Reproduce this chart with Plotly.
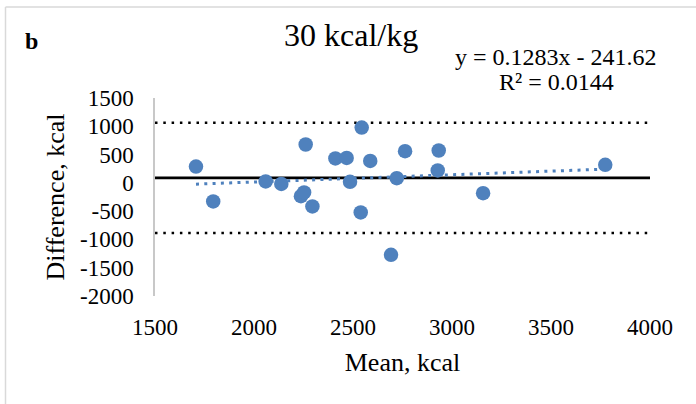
import numpy as np
import plotly.graph_objects as go

# Bland-Altman data
mean_kcal = [1707, 1794, 2059, 2138, 2261, 2237, 2253, 2295, 2411, 2468, 2544,
             2485, 2539, 2587, 2692, 2721, 2763, 2933, 2928, 3157, 3774]
diff_kcal = [289, -328, 25, -18, 678, -235, -169, -417, 431, 441, 978,
             18, -522, 388, -1271, 83, 559, 572, 219, -182, 318]
x_ticks = [1500, 2000, 2500, 3000, 3500, 4000]
y_ticks = [1500, 1000, 500, 0, -500, -1000, -1500, -2000]
trend_slope = 0.1283
trend_intercept = -241.62

x = np.array(mean_kcal, dtype=float)
d = np.array(diff_kcal, dtype=float)
bias = d.mean()
sd = d.std(ddof=1)
upper = bias + 1.96 * sd
lower = bias - 1.96 * sd
x_range = [min(x_ticks), max(x_ticks)]

FONT = "Liberation Serif"
BLUE = "#4F81BD"

W, H = 696, 404
L, R, T, B = 155, 46, 98, 108
PW, PH = W - L - R, H - T - B


def px(xp):
    return (xp - L) / PW


def py(yp):
    return (H - B - yp) / PH


fig = go.Figure()

# limits of agreement
for lim in (upper, lower):
    fig.add_trace(go.Scatter(x=x_range, y=[lim, lim], mode="lines",
                             line=dict(color="black", width=2.5, dash="2.5px,5.8px"),
                             hoverinfo="skip", showlegend=False))
# mean bias
fig.add_trace(go.Scatter(x=x_range, y=[bias, bias], mode="lines",
                         line=dict(color="black", width=2.7),
                         hoverinfo="skip", showlegend=False))
# trend line
tx = np.array([x.min(), x.max()])
fig.add_trace(go.Scatter(x=tx, y=trend_slope * tx + trend_intercept, mode="lines",
                         line=dict(color=BLUE, width=3, dash="3px,5.3px"),
                         hoverinfo="skip", showlegend=False))
# points
fig.add_trace(go.Scatter(x=mean_kcal, y=diff_kcal, mode="markers",
                         marker=dict(color=BLUE, size=14.5, line=dict(width=0)),
                         showlegend=False))

fig.update_layout(
    width=W, height=H,
    margin=dict(l=L, r=R, t=T, b=B),
    paper_bgcolor="white", plot_bgcolor="white",
    font=dict(family=FONT, color="black", size=22),
    showlegend=False,
    xaxis=dict(range=x_range, tickvals=x_ticks, ticktext=[str(v) for v in x_ticks],
               showgrid=False, zeroline=False, showline=False, ticks="",
               ticklabelstandoff=15, tickfont=dict(size=23, family=FONT),
               title=dict(text="Mean, kcal", font=dict(size=26, family=FONT), standoff=13)),
    yaxis=dict(range=[-2000, 1500], tickvals=y_ticks, ticktext=[str(v) for v in y_ticks],
               showgrid=False, zeroline=False, showline=True, linecolor="#C8C8C8",
               linewidth=1.5, ticks="", ticklabelstandoff=15,
               tickfont=dict(size=23, family=FONT),
               title=dict(text="Difference, kcal", font=dict(size=26, family=FONT), standoff=8)),
)

ann_common = dict(xref="paper", yref="paper", showarrow=False,
                  xanchor="center", yanchor="middle")
fig.add_annotation(text="<b>b</b>", x=px(31), y=py(41),
                   font=dict(size=24, family=FONT), **ann_common)
fig.add_annotation(text="30 kcal/kg", x=px(351), y=py(35),
                   font=dict(size=32, family=FONT), **ann_common)
fig.add_annotation(text="y = 0.1283x - 241.62", x=px(556), y=py(57),
                   font=dict(size=24, family=FONT), **ann_common)
fig.add_annotation(text="R² = 0.0144", x=px(556), y=py(82),
                   font=dict(size=24, family=FONT), **ann_common)

# chart frame (left and top edges visible)
fig.add_shape(type="line", xref="paper", yref="paper",
              x0=px(5.5), x1=px(5.5), y0=py(7), y1=py(430),
              line=dict(color="#D9D9D9", width=1.5))
fig.add_shape(type="line", xref="paper", yref="paper",
              x0=px(5.5), x1=px(720), y0=py(7), y1=py(7),
              line=dict(color="#D9D9D9", width=1.5))

fig.write_html("out.html", config={"displayModeBar": False},
               post_script="document.body.style.margin='0px';")
